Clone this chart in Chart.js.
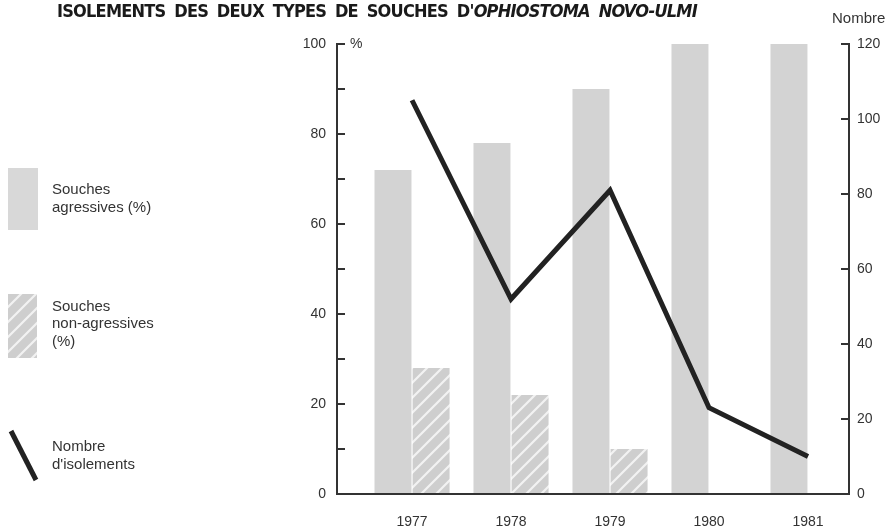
<!DOCTYPE html>
<html>
<head>
<meta charset="utf-8">
<script src="https://cdn.jsdelivr.net/npm/chart.js@4.4.0/dist/chart.umd.min.js"></script>
<style>
  html, body { margin: 0; padding: 0; background: #fff; }
  #wrap { position: relative; width: 890px; height: 532px; }
  canvas { position: absolute; left: 0; top: 0; }
  #title {
    position: absolute; left: 57px; top: 2px;
    font: bold 18px "Liberation Sans Narrow", "DejaVu Sans Condensed", sans-serif;
    line-height: 18px; color: #1a1a1a; white-space: nowrap; word-spacing: 4px;
  }
</style>
</head>
<body>
<div id="wrap">
  <canvas id="chart" width="890" height="532"></canvas>
  <div id="title">ISOLEMENTS DES DEUX TYPES DE SOUCHES D'<i>OPHIOSTOMA NOVO-ULMI</i></div>
</div>
<script>
// values
const years = [1977, 1978, 1979, 1980, 1981];
const agressives = [72, 78, 90, 100, 100];      // % souches agressives
const nonAgressives = [28, 22, 10, 0, 0];       // % souches non-agressives
const isolements = [105, 52, 81, 23, 10];       // nombre d'isolements
const pctLabels = [0, 20, 40, 60, 80, 100];
const nombreLabels = [0, 20, 40, 60, 80, 100, 120];

const legendItems = [
  { kind: 'bar', lines: ['Souches', 'agressives (%)'] },
  { kind: 'hatch', lines: ['Souches', 'non-agressives', '(%)'] },
  { kind: 'line', lines: ['Nombre', "d'isolements"] }
];

const GREY = '#d3d3d3';
const INK = '#222';

// fit the title to the width it has in the figure
const title = document.getElementById('title');
const tw = title.getBoundingClientRect().width;
const nChars = title.textContent.length;
title.style.letterSpacing = ((640 - tw) / nChars).toFixed(2) + 'px';

function makeHatch(bg, fg) {
  const s = 15;
  const c = document.createElement('canvas');
  c.width = s; c.height = s;
  const g = c.getContext('2d');
  g.fillStyle = bg;
  g.fillRect(0, 0, s, s);
  g.strokeStyle = fg;
  g.lineWidth = 2.2;
  g.beginPath();
  g.moveTo(-1, s + 1); g.lineTo(s + 1, -1);
  g.moveTo(-1, 1); g.lineTo(1, -1);
  g.moveTo(s - 1, s + 1); g.lineTo(s + 1, s - 1);
  g.stroke();
  return g.createPattern(c, 'repeat');
}

const ctx = document.getElementById('chart').getContext('2d');
const hatch = makeHatch('#cecece', '#f2f2f2');

// legend on the left, "%" and "Nombre" units
const extras = {
  id: 'extras',
  afterDraw(chart) {
    const c = chart.ctx;
    const yL = chart.scales.y;
    c.save();
    c.fillStyle = '#333';
    c.textBaseline = 'middle';
    c.textAlign = 'left';
    c.font = '14px "Liberation Sans", Arial, sans-serif';
    c.fillText('%', yL.right + 13, yL.getPixelForValue(100));
    c.font = '15px "Liberation Sans", Arial, sans-serif';
    c.fillText('Nombre', 832, 19);

    const centers = [199, 324, 456];
    legendItems.forEach((it, i) => {
      const cy = centers[i];
      if (it.kind === 'bar') {
        c.fillStyle = '#d8d8d8';
        c.fillRect(8, cy - 31, 30, 62);
      } else if (it.kind === 'hatch') {
        c.fillStyle = hatch;
        c.fillRect(8, cy - 30, 29, 64);
      } else {
        c.strokeStyle = INK;
        c.lineWidth = 5;
        c.beginPath();
        c.moveTo(11, cy - 25);
        c.lineTo(36, cy + 24);
        c.stroke();
      }
      c.fillStyle = '#333';
      const lh = 17.5;
      const top = cy - (it.lines.length - 1) * lh / 2;
      it.lines.forEach((t, k) => c.fillText(t, 52, top + k * lh));
    });
    c.restore();
  }
};

new Chart(ctx, {
  data: {
    datasets: [
      {
        type: 'line',
        label: "Nombre d'isolements",
        data: years.map((x, i) => ({ x, y: isolements[i] })),
        yAxisID: 'yR',
        borderColor: INK,
        borderWidth: 5,
        pointRadius: 0,
        tension: 0,
        borderJoinStyle: 'miter',
        order: 0
      },
      {
        type: 'bar',
        label: 'Souches agressives (%)',
        data: years.map((x, i) => ({ x, y: agressives[i] })),
        yAxisID: 'y',
        backgroundColor: GREY,
        borderWidth: 0,
        categoryPercentage: 0.77,
        barPercentage: 0.97,
        order: 1
      },
      {
        type: 'bar',
        label: 'Souches non-agressives (%)',
        data: years.map((x, i) => ({ x, y: nonAgressives[i] })),
        yAxisID: 'y',
        backgroundColor: hatch,
        borderWidth: 0,
        categoryPercentage: 0.77,
        barPercentage: 0.97,
        order: 1
      }
    ]
  },
  options: {
    responsive: false,
    animation: false,
    layout: { padding: { left: 280, top: 44, right: 0, bottom: 0 } },
    plugins: { legend: { display: false }, tooltip: { enabled: false } },
    scales: {
      x: {
        type: 'linear',
        offset: false,
        min: 1976.242,
        max: 1981.414,
        afterBuildTicks: s => { s.ticks = years.map(v => ({ value: v })); },
        afterFit: s => { s.height = 38; },
        grid: { display: true, drawOnChartArea: false, drawTicks: false },
        border: { display: true, color: '#333', width: 2 },
        ticks: {
          padding: 20,
          color: '#333',
          font: { family: '"Liberation Sans", Arial, sans-serif', size: 14 },
          callback: v => String(v)
        }
      },
      y: {
        position: 'left',
        min: 0,
        max: 100,
        afterFit: s => { s.width = 57; },
        grid: { drawOnChartArea: false, drawTicks: true, tickLength: -8, color: '#333', lineWidth: 2 },
        border: { display: true, color: '#333', width: 2 },
        ticks: {
          stepSize: 10,
          autoSkip: false,
          padding: 19,
          color: '#333',
          font: { family: '"Liberation Sans", Arial, sans-serif', size: 14 },
          callback: v => pctLabels.includes(v) ? String(v) : ''
        }
      },
      yR: {
        position: 'right',
        min: 0,
        max: 120,
        afterFit: s => { s.width = 41; },
        grid: { drawOnChartArea: false, drawTicks: true, tickLength: -8, color: '#333', lineWidth: 2 },
        border: { display: true, color: '#333', width: 2 },
        ticks: {
          stepSize: 20,
          autoSkip: false,
          padding: 16,
          color: '#333',
          font: { family: '"Liberation Sans", Arial, sans-serif', size: 14 },
          callback: v => nombreLabels.includes(v) ? String(v) : ''
        }
      }
    }
  },
  plugins: [extras]
});
</script>
</body>
</html>
